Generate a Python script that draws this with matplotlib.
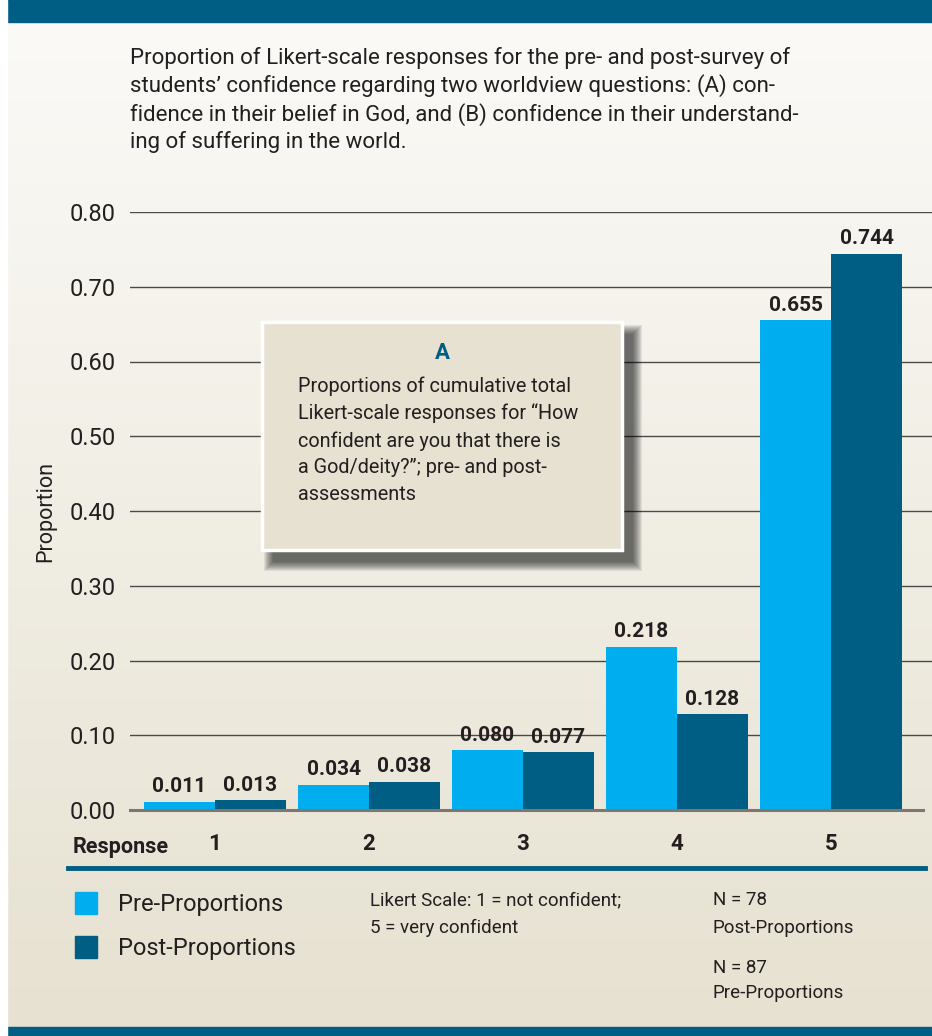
import numpy as np
import matplotlib
matplotlib.use('Agg')
import matplotlib.pyplot as plt
from matplotlib.patches import Rectangle

plt.rcParams['font.family'] = ['Roboto', 'DejaVu Sans']

# data
responses = [1, 2, 3, 4, 5]
pre_props = [0.011, 0.034, 0.080, 0.218, 0.655]
post_props = [0.013, 0.038, 0.077, 0.128, 0.744]
y_ticks = [0.0, 0.1, 0.2, 0.3, 0.4, 0.5, 0.6, 0.7, 0.8]

caption = ("Proportion of Likert-scale responses for the pre- and post-survey of\n"
           "students\u2019 confidence regarding two worldview questions: (A) con-\n"
           "fidence in their belief in God, and (B) confidence in their understand-\n"
           "ing of suffering in the world.")
box_text = ("Proportions of cumulative total\n"
            "Likert-scale responses for \u201cHow\n"
            "confident are you that there is\n"
            "a God/deity?\u201d; pre- and post-\n"
            "assessments")

W, H = 932, 1036
PRE = '#00aeef'
POST = '#005d84'
DARK = '#231f20'

fig = plt.figure(figsize=(W / 100, H / 100), dpi=100)

def fx(px):
    return px / W

def fy(py):
    return 1 - py / H

# background gradient
bg = fig.add_axes([0, 0, 1, 1], zorder=-10)
grad = np.linspace(0, 1, 256).reshape(-1, 1)
top = np.array([0.985, 0.982, 0.972])
bot = np.array([0.902, 0.882, 0.816])
img = top + (bot - top) * grad[..., None]
bg.imshow(img, aspect='auto', extent=[0, 1, 0, 1])
bg.set_xlim(0, 1)
bg.set_ylim(0, 1)
bg.axis('off')
# header and footer bands
bg.add_patch(Rectangle((fx(7), fy(22)), 1, 1, color=POST, transform=bg.transAxes))
bg.add_patch(Rectangle((fx(7), 0), 1, 9 / H, color=POST, transform=bg.transAxes))
bg.add_patch(Rectangle((0, 0), fx(7), 1, color='white', transform=bg.transAxes))

fig.text(fx(130), fy(47), caption, fontsize=16, color=DARK, va='top', ha='left',
         linespacing=1.3)

# main axes
ax_left, ax_right, ax_top, ax_bot = 130, 932, 212, 810
ax = fig.add_axes([fx(ax_left), fy(ax_bot), fx(ax_right - ax_left), (ax_bot - ax_top) / H])
ax.patch.set_alpha(0)
xs = np.array(responses)
bw = 0.461
ax.set_xlim(1 - (215 - 130) / 154, 5 + (932 - 831) / 154)
ax.set_ylim(0, 0.8)
for t in y_ticks[1:]:
    ax.axhline(t, color='#4a4a4a', lw=1, zorder=1)
ax.plot([ax.get_xlim()[0], 5.6], [0, 0], color='#7d7770', lw=2.2, zorder=3, clip_on=False)
ax.bar(xs - bw / 2, pre_props, bw, color=PRE, zorder=2)
ax.bar(xs + bw / 2, post_props, bw, color=POST, zorder=2)
for x, v in zip(xs - bw / 2, pre_props):
    ax.annotate(f'{v:.3f}', (x, v), xytext=(0, 4), textcoords='offset points',
                ha='center', va='bottom', fontsize=15, fontweight='bold', color=DARK)
for x, v in zip(xs + bw / 2, post_props):
    ax.annotate(f'{v:.3f}', (x, v), xytext=(0, 4), textcoords='offset points',
                ha='center', va='bottom', fontsize=15, fontweight='bold', color=DARK)
for s in ax.spines.values():
    s.set_visible(False)
ax.set_xticks([])
ax.set_yticks(y_ticks)
ax.set_yticklabels([f'{t:.2f}' for t in y_ticks], fontsize=17, color=DARK)
ax.tick_params(axis='y', length=0, pad=10)
ax.set_ylabel('Proportion', fontsize=15.5, color=DARK, labelpad=10)

# response row
fig.text(fx(73), fy(847), 'Response', fontsize=15.5, fontweight='bold', color=DARK,
         ha='left', va='center')
for r in responses:
    xp = ax.transData.transform((r, 0))[0]
    fig.text(xp / W, fy(844), str(r), fontsize=16, fontweight='bold', color=DARK,
             ha='center', va='center')
fig.add_artist(plt.Line2D([fx(68), fx(925)], [fy(868), fy(868)], color=POST, lw=3.5))

# inset box A with shadow
bx0, by0, bx1, by1 = 262, 322, 622, 550
for i in range(10):
    fig.add_artist(Rectangle((fx(bx0 + 11 - i), fy(by1 + 12 + i)),
                             fx(bx1 - bx0 + 2 * i), (by1 - by0 + 2 * i) / H,
                             transform=fig.transFigure, color='black', alpha=0.075,
                             lw=0, zorder=5))
fig.add_artist(Rectangle((fx(bx0), fy(by1)), fx(bx1 - bx0), (by1 - by0) / H,
                         transform=fig.transFigure, facecolor='#e6e1d0',
                         edgecolor='white', lw=2.5, zorder=6))
fig.text(fx(442), fy(353), 'A', fontsize=16, fontweight='bold', color=POST,
         ha='center', va='center', zorder=7)
fig.text(fx(298), fy(376), box_text, fontsize=14.3, color=DARK, ha='left', va='top',
         linespacing=1.5, zorder=7)

# legend
fig.add_artist(Rectangle((fx(75), fy(914)), fx(22), 22 / H, transform=fig.transFigure,
                         color=PRE))
fig.add_artist(Rectangle((fx(75), fy(958)), fx(22), 22 / H, transform=fig.transFigure,
                         color=POST))
fig.text(fx(118), fy(904), 'Pre-Proportions', fontsize=17,
         color=DARK, ha='left', va='center')
fig.text(fx(118), fy(948), 'Post-Proportions', fontsize=17,
         color=DARK, ha='left', va='center')
fig.text(fx(370), fy(900), 'Likert Scale: 1 = not confident;', fontsize=13.5,
         color=DARK, ha='left', va='center')
fig.text(fx(370), fy(928), '5 = very confident', fontsize=13.5, color=DARK,
         ha='left', va='center')
fig.text(fx(713), fy(900), 'N = 78', fontsize=13.5, color=DARK, ha='left', va='center')
fig.text(fx(713), fy(928), 'Post-Proportions', fontsize=13.5, color=DARK,
         ha='left', va='center')
fig.text(fx(713), fy(968), 'N = 87', fontsize=13.5, color=DARK, ha='left', va='center')
fig.text(fx(713), fy(993), 'Pre-Proportions', fontsize=13.5, color=DARK,
         ha='left', va='center')

fig.savefig('out.png', dpi=100)
